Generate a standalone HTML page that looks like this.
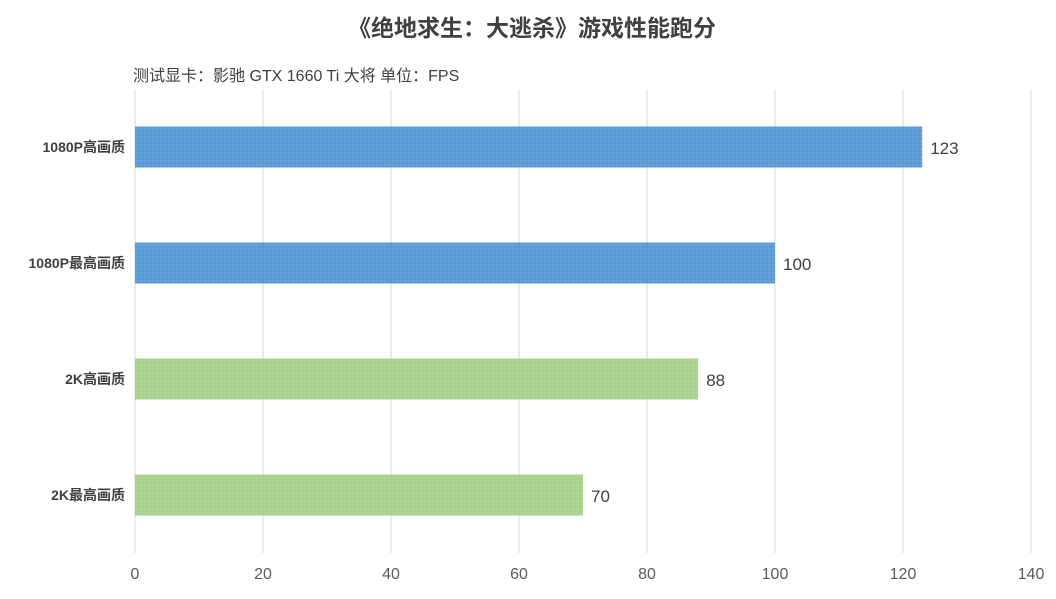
<!DOCTYPE html>
<html><head><meta charset="utf-8"><style>
body{margin:0;width:1056px;height:594px;background:#fff;overflow:hidden;font-family:"Liberation Sans","Noto Sans CJK SC",sans-serif}
</style></head><body>
<svg width="1056" height="594" xmlns="http://www.w3.org/2000/svg">
<defs>
<pattern id="pb" width="4" height="4" patternUnits="userSpaceOnUse"><rect width="4" height="4" fill="#5b9bd5"/><circle cx="1" cy="1" r="0.6" fill="#8dbbe6"/></pattern>
<pattern id="pg" width="4" height="4" patternUnits="userSpaceOnUse"><rect width="4" height="4" fill="#a9d18e"/><circle cx="1" cy="1" r="0.6" fill="#c6e2b3"/></pattern>
</defs>
<text x="532" y="36" text-anchor="middle" font-size="23" font-weight="bold" fill="#404040" font-family="Liberation Sans, Noto Sans CJK SC, sans-serif">《绝地求生：大逃杀》游戏性能跑分</text>
<text x="133" y="81" font-size="16" fill="#404040" font-family="Liberation Sans, Noto Sans CJK SC, sans-serif">测试显卡：影驰 GTX 1660 Ti 大将   单位：FPS</text>
<g id="grid"></g><g id="bars"></g>
</svg>
<script>
const categories=["1080P高画质","1080P最高画质","2K高画质","2K最高画质"];
const values=[123,100,88,70];
const fills=["url(#pb)","url(#pb)","url(#pg)","url(#pg)"];
const ticks=[0,20,40,60,80,100,120,140];
const NS="http://www.w3.org/2000/svg";
const x=v=>135+v*6.4;
const yc=i=>147+i*116;
const g=document.getElementById('grid'),b=document.getElementById('bars');
function mk(t,a,p){const e=document.createElementNS(NS,t);for(const k in a)e.setAttribute(k,a[k]);p.appendChild(e);return e;}
ticks.forEach(t=>{
 const l=mk('line',{x1:x(t),x2:x(t),y1:90,y2:553,stroke:'#d9d9d9','stroke-width':1},g);
 
 
 const tx=mk('text',{x:x(t),y:579,'text-anchor':'middle','font-size':16,fill:'#595959'},g);
 tx.textContent=t;
 
 
});
categories.forEach((c,i)=>{
 const r=mk('rect',{x:x(0),y:yc(i)-20.5,width:x(values[i])-x(0),height:41,fill:fills[i]},b);
 
 
 const lb=mk('text',{x:125,y:yc(i)+5,'text-anchor':'end','font-size':14,'font-weight':'bold',fill:'#404040'},b);
 lb.textContent=c;
 
 
 const v=mk('text',{x:x(values[i])+8,y:yc(i)+7,'font-size':17,fill:'#404040'},b);
 v.textContent=values[i];
 
 
});
</script>
</body></html>
